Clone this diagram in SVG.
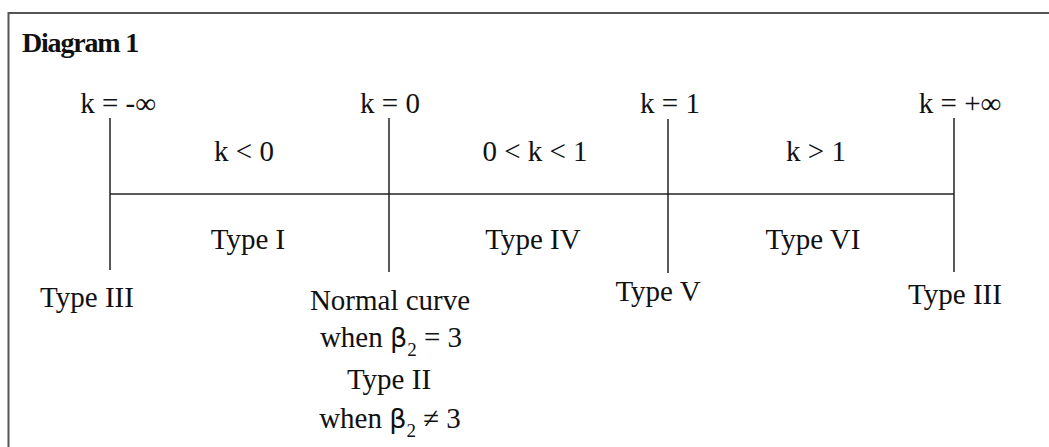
<svg xmlns="http://www.w3.org/2000/svg" width="1049" height="447" viewBox="0 0 1049 447">
<style>
text{font-family:"Liberation Serif","Times New Roman",serif;font-size:29px;fill:#111;text-anchor:middle}
.t{font-weight:bold;font-size:28px;letter-spacing:-1.2px;text-anchor:start}
.b{font-family:"DejaVu Sans","Liberation Sans",sans-serif;font-size:27px}
.s{font-size:19px}
line{stroke:#222;stroke-width:1.5}
</style>
<rect x="0" y="0" width="1049" height="447" fill="#fff"/>
<path d="M8.5 447 V13 H1049" fill="none" stroke="#555" stroke-width="2"/>
<text class="t" x="22" y="52">Diagram 1</text>
<g id="connectors">
<line x1="110" y1="194" x2="954" y2="194"/>
<line x1="110" y1="118" x2="110" y2="270"/>
<line x1="389" y1="118" x2="389" y2="272"/>
<line x1="668" y1="119" x2="668" y2="273"/>
<line x1="954" y1="118" x2="954" y2="272"/>
</g>
<g id="k-neg-inf"><text x="118" y="113">k = -∞</text></g>
<g id="k-0"><text x="390" y="113">k = 0</text></g>
<g id="k-1"><text x="670" y="113">k = 1</text></g>
<g id="k-pos-inf"><text x="960" y="113">k = +∞</text></g>
<g id="k-lt-0"><text x="244" y="161">k &lt; 0</text></g>
<g id="k-0-1"><text x="535" y="161">0 &lt; k &lt; 1</text></g>
<g id="k-gt-1"><text x="816" y="161">k &gt; 1</text></g>
<g id="type-i"><text x="248" y="249">Type I</text></g>
<g id="type-iv"><text x="533" y="249">Type IV</text></g>
<g id="type-vi"><text x="813" y="249">Type VI</text></g>
<g id="type-iii-left"><text x="87" y="307">Type III</text></g>
<g id="normal"><text x="390" y="310">Normal curve</text>
<text x="391" y="347">when <tspan class="b">β</tspan><tspan class="s" dy="9">2</tspan><tspan dy="-9"> = 3</tspan></text></g>
<g id="type-ii"><text x="389" y="389">Type II</text>
<text x="390" y="428">when <tspan class="b">β</tspan><tspan class="s" dy="9">2</tspan><tspan dy="-9"> ≠ 3</tspan></text></g>
<g id="type-v"><text x="658" y="301">Type V</text></g>
<g id="type-iii-right"><text x="955" y="304">Type III</text></g>
</svg>
